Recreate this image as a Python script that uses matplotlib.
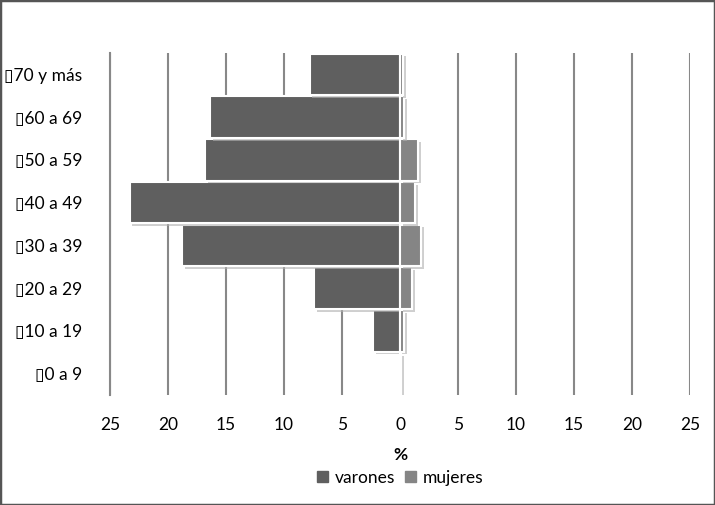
import matplotlib.pyplot as plt
import matplotlib.patheffects as pe
from matplotlib.patches import Rectangle, Patch
import numpy as np

plt.rcParams['font.family'] = ['Lato', 'DejaVu Sans']

age_groups = ["0 a 9", "10 a 19", "20 a 29", "30 a 39", "40 a 49", "50 a 59", "60 a 69", "70 y más"]
varones = [0.1, 2.3, 7.4, 18.8, 23.3, 16.8, 16.4, 7.8]
mujeres = [0.1, 0.35, 1.05, 1.8, 1.3, 1.55, 0.35, 0.25]
ticks = [-25, -20, -15, -10, -5, 0, 5, 10, 15, 20, 25]

fig = plt.figure(figsize=(7.15, 5.05), dpi=100)
ax = fig.add_axes([110 / 715, 110 / 505, 580 / 715, 342 / 505])

y = np.arange(len(age_groups))
shadow = [pe.SimplePatchShadow(offset=(2, -2), shadow_rgbFace='#b0b0b0', alpha=0.6), pe.Normal()]
ax.barh(y, [-v for v in varones], height=0.97, color='#5f5f5f', edgecolor='white',
        linewidth=1.5, label='varones', path_effects=shadow, zorder=3)
ax.barh(y, mujeres, height=0.97, color='#858585', edgecolor='white',
        linewidth=1.5, label='mujeres', path_effects=shadow, zorder=3)

ax.set_xlim(-25, 25)
ax.set_ylim(-0.5, len(age_groups) - 0.5)
ax.set_xticks(ticks)
ax.set_xticklabels([str(abs(t)) for t in ticks], fontsize=12.5)
ax.set_yticks(y)
ax.set_yticklabels(["\u25af" + g for g in age_groups], fontsize=12.5)
ax.tick_params(axis='x', length=0, pad=16)
ax.tick_params(axis='y', length=0, pad=20)
ax.xaxis.grid(True, color='#888888', linewidth=1.5, zorder=0)
for s in ['top', 'right', 'bottom']:
    ax.spines[s].set_visible(False)
ax.spines['left'].set_color('#888888')
ax.spines['left'].set_linewidth(1.5)
ax.set_xlabel('%', fontsize=12.5, fontweight='bold', labelpad=10)

handles = [Patch(color='#5f5f5f', label='varones'), Patch(color='#858585', label='mujeres')]
fig.legend(handles=handles, loc='center', bbox_to_anchor=(0.56, 0.054), ncol=2, frameon=False,
           fontsize=12.5, handlelength=0.6, handleheight=0.6, handletextpad=0.4, columnspacing=0.6)

fig.patches.append(Rectangle((0, 0), 1, 1, transform=fig.transFigure, fill=False,
                             edgecolor='#555555', linewidth=2.5))
fig.savefig('out.png', dpi=100)
